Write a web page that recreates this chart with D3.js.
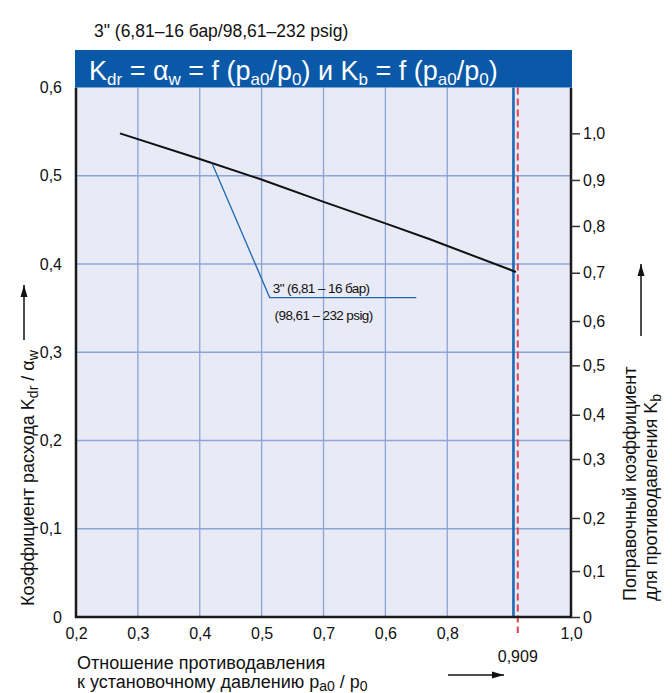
<!DOCTYPE html>
<html>
<head>
<meta charset="utf-8">
<script src="https://cdn.jsdelivr.net/npm/d3@7"></script>
<style>
body { margin: 0; background: #fff; }
svg text { font-family: "Liberation Sans", Arial, sans-serif; fill: #111; }
</style>
</head>
<body>
<svg id="graph1"></svg>
<script>
// curve K_dr over p_a0/p0
var ratio = [0.271, 0.400, 0.4985, 0.598, 0.700, 0.772, 0.911]
var kdr = [0.548, 0.519, 0.496, 0.471, 0.446, 0.428, 0.391]

var xTicks = [0.2, 0.3, 0.4, 0.5, 0.6, 0.7, 0.8, 1.0]
var xTickLabels = ["0,2", "0,3", "0,4", "0,5", "0,7", "0,6", "0,8", "1,0"]
var xGrid = [0.3, 0.4, 0.5, 0.6, 0.7, 0.8]
var yTicks = [0, 0.1, 0.2, 0.3, 0.4, 0.5, 0.6]
var yTickLabels = ["0", "0,1", "0,2", "0,3", "0,4", "0,5", "0,6"]
var yGrid = [0.1, 0.2, 0.3, 0.4, 0.5]

// right axis K_b is not linear, read where each tick sits on the K_dr scale
var kbTicks = [0, 0.1, 0.2, 0.3, 0.4, 0.5, 0.6, 0.7, 0.8, 0.9, 1.0]
var kbAtKdr = [0, 0.0521, 0.1122, 0.1790, 0.2292, 0.2852, 0.3354, 0.3901, 0.4431, 0.4952, 0.5481]
var kbTickLabels = ["0", "0,1", "0,2", "0,3", "0,4", "0,5", "0,6", "0,7", "0,8", "0,9", "1,0"]

var blueLine = 0.907
var redLine = 0.914
var redLabel = "0,909"

var leader = [[0.420, 0.514], [0.513, 0.362], [0.750, 0.362]]

var screen = {width: 672, height: 693}
var margins = {top: 87.5, bottom: 76, left: 76, right: 101}
var width = screen.width - margins.left - margins.right
var height = screen.height - margins.top - margins.bottom

var svg = d3.select("#graph1")
    .attr("width", screen.width)
    .attr("height", screen.height)

var xScale = d3.scaleLinear().domain([0.2, 1.0]).range([0, width])
var yScale = d3.scaleLinear().domain([0, 0.6]).range([height, 0])
var kbScale = d3.scaleLinear().domain(kbTicks).range(kbAtKdr.map(function(v) { return yScale(v) }))

// writes text with subscripts, parts = [[text, sub], ...]
var richText = function(sel, parts, size, subSize, shift)
{
    parts.forEach(function(p, i)
    {
        var prevSub = i > 0 && parts[i - 1][1]
        var dy = 0
        if (p[1] && !prevSub) dy = shift
        if (!p[1] && prevSub) dy = -shift
        sel.append("tspan")
            .attr("font-size", p[1] ? subSize : size)
            .attr("dy", dy)
            .text(p[0])
    })
}

svg.append("text")
    .attr("x", 94).attr("y", 37)
    .attr("font-size", 17.5)
    .text("3\" (6,81–16 бар/98,61–232 psig)")

var g = svg.append("g")
    .attr("transform", "translate(" + margins.left + "," + margins.top + ")")

g.append("rect")
    .attr("width", width).attr("height", height)
    .attr("fill", "#e8eaf6")

g.selectAll(".vgrid").data(xGrid).enter().append("line")
    .attr("x1", function(d) { return xScale(d) }).attr("x2", function(d) { return xScale(d) })
    .attr("y1", 0).attr("y2", height)
    .attr("stroke", "#8ea3d8").attr("stroke-width", 1.3)

g.selectAll(".hgrid").data(yGrid).enter().append("line")
    .attr("x1", 0).attr("x2", width)
    .attr("y1", function(d) { return yScale(d) }).attr("y2", function(d) { return yScale(d) })
    .attr("stroke", "#8ea3d8").attr("stroke-width", 1.3)

g.append("line")
    .attr("x1", xScale(blueLine)).attr("x2", xScale(blueLine))
    .attr("y1", 0).attr("y2", height)
    .attr("stroke", "#1f68b5").attr("stroke-width", 2.6)

g.append("line")
    .attr("x1", xScale(redLine)).attr("x2", xScale(redLine))
    .attr("y1", 0).attr("y2", height + 16)
    .attr("stroke", "#e8404a").attr("stroke-width", 2)
    .attr("stroke-dasharray", "7,4")

var line = d3.line()
    .x(function(d) { return xScale(d[0]) })
    .y(function(d) { return yScale(d[1]) })

g.append("path")
    .datum(ratio.map(function(r, i) { return [r, kdr[i]] }))
    .attr("d", line)
    .attr("fill", "none").attr("stroke", "#111").attr("stroke-width", 2)

g.append("path")
    .datum(leader)
    .attr("d", line)
    .attr("fill", "none").attr("stroke", "#1f68b5").attr("stroke-width", 1.3)

g.append("text")
    .attr("x", xScale(0.518)).attr("y", yScale(0.367))
    .attr("font-size", 13.5).attr("letter-spacing", -0.6)
    .text("3\" (6,81 – 16 бар)")
g.append("text")
    .attr("x", xScale(0.521)).attr("y", yScale(0.337))
    .attr("font-size", 13.5).attr("letter-spacing", -0.6)
    .text("(98,61 – 232 psig)")

// frame
g.append("path")
    .attr("d", "M0,0V" + height + "H" + width + "V0")
    .attr("fill", "none").attr("stroke", "#1a1a1a").attr("stroke-width", 2.5)

// axes
var xAxis = d3.axisBottom(xScale).tickValues(xTicks).tickSize(0).tickPadding(11)
    .tickFormat(function(d, i) { return xTickLabels[i] })
var yAxis = d3.axisLeft(yScale).tickValues(yTicks).tickSize(0).tickPadding(14)
    .tickFormat(function(d, i) { return yTickLabels[i] })
var kbAxis = d3.axisRight(kbScale).tickValues(kbTicks).tickSize(9).tickPadding(3)
    .tickFormat(function(d, i) { return kbTickLabels[i] })

g.append("g").attr("id", "xAxis")
    .attr("transform", "translate(0," + height + ")")
    .call(xAxis)
g.append("g").attr("id", "yAxis").call(yAxis)
g.append("g").attr("id", "kbAxis")
    .attr("transform", "translate(" + width + ",0)")
    .call(kbAxis)

g.selectAll(".domain").remove()
g.selectAll(".tick text").attr("font-size", 16).attr("fill", "#111")
    .attr("font-family", "Liberation Sans, Arial, sans-serif")
g.selectAll("#kbAxis .tick line").attr("stroke", "#333").attr("stroke-width", 1.5)

g.append("text")
    .attr("x", xScale(redLine)).attr("y", height + 45)
    .attr("text-anchor", "middle").attr("font-size", 16)
    .text(redLabel)

// title bar
svg.append("rect")
    .attr("x", margins.left - 1).attr("y", 50)
    .attr("width", width + 2).attr("height", margins.top - 50)
    .attr("fill", "#0a59a8")

var title = svg.append("text")
    .attr("x", 89).attr("y", 80)
    .style("fill", "#fff")
richText(title, [["K", 0], ["dr", 1], [" = α", 0], ["w", 1], [" = f (p", 0], ["a0", 1], ["/p", 0], ["0", 1],
    [") и K", 0], ["b", 1], [" = f (p", 0], ["a0", 1], ["/p", 0], ["0", 1], [")", 0]], 27, 17, 5)
title.selectAll("tspan").style("fill", "#fff")

// x axis title
svg.append("text").attr("x", 77).attr("y", 669).attr("font-size", 18)
    .text("Отношение противодавления")
var xt = svg.append("text").attr("x", 77).attr("y", 688)
richText(xt, [["к установочному давлению  p", 0], ["a0", 1], [" / p", 0], ["0", 1]], 18, 14, 3)

var arrow = function(x1, y1, x2, y2)
{
    svg.append("line")
        .attr("x1", x1).attr("y1", y1).attr("x2", x2).attr("y2", y2)
        .attr("stroke", "#111").attr("stroke-width", 1.5)
    var a = Math.atan2(y2 - y1, x2 - x1)
    var p = [[x2, y2],
        [x2 - 12 * Math.cos(a) + 3.5 * Math.sin(a), y2 - 12 * Math.sin(a) - 3.5 * Math.cos(a)],
        [x2 - 12 * Math.cos(a) - 3.5 * Math.sin(a), y2 - 12 * Math.sin(a) + 3.5 * Math.cos(a)]]
    svg.append("path").attr("d", "M" + p.join("L") + "Z").attr("fill", "#111")
}
arrow(448, 675, 504, 675)

// left title
var lt = svg.append("text")
    .attr("transform", "translate(34,606) rotate(-90)")
richText(lt, [["Коэффициент расхода K", 0], ["dr", 1], [" / α", 0], ["w", 1]], 18, 14, 4)
arrow(24, 340, 24, 285)

// right title
svg.append("text")
    .attr("transform", "translate(636,601) rotate(-90)")
    .attr("font-size", 18)
    .text("Поправочный коэффициент")
var rt = svg.append("text")
    .attr("transform", "translate(657,601) rotate(-90)")
richText(rt, [["для противодавления K", 0], ["b", 1]], 18, 14, 4)
arrow(641, 336, 641, 264)
</script>
</body>
</html>
